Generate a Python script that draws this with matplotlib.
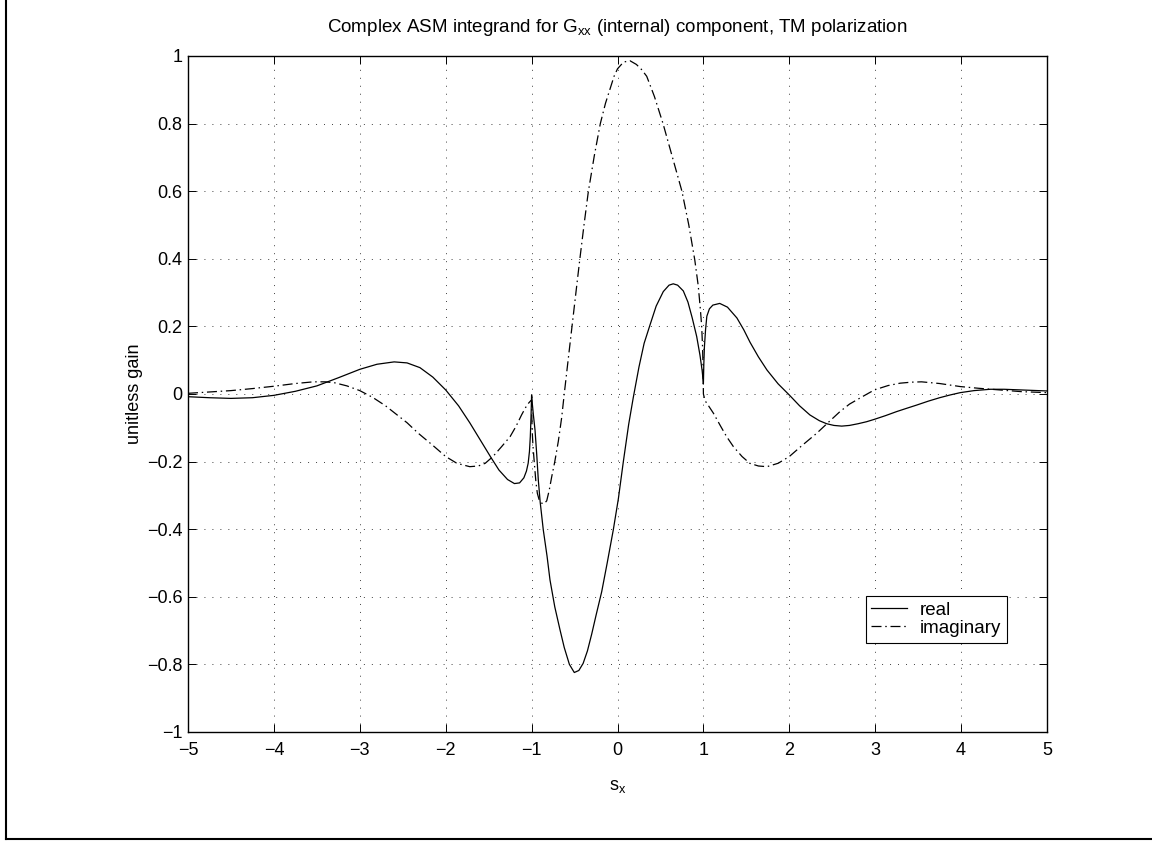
import matplotlib
matplotlib.use("Agg")
import matplotlib.pyplot as plt
from matplotlib.lines import Line2D

plt.rcParams['font.family'] = ['Liberation Sans', 'DejaVu Sans']
plt.rcParams['mathtext.fontset'] = 'custom'
plt.rcParams['mathtext.rm'] = 'Liberation Sans'
plt.rcParams['mathtext.it'] = 'Liberation Sans'

FS = 13

# real part of the integrand
s_real = [-5.0, -4.75, -4.5, -4.25, -4.0, -3.75, -3.5, -3.25, -3.0, -2.8, -2.6,
          -2.45, -2.3, -2.15, -2.0, -1.85, -1.72, -1.6, -1.48, -1.38, -1.28,
          -1.2, -1.14, -1.09, -1.06, -1.04, -1.025, -1.015, -1.007, -1.0,
          -0.995, -0.98, -0.96, -0.94, -0.922, -0.9, -0.864, -0.82, -0.786,
          -0.73, -0.669, -0.62, -0.56, -0.503, -0.45, -0.40, -0.35, -0.30,
          -0.25, -0.184, -0.12, -0.049, 0.01, 0.068, 0.13, 0.184, 0.25, 0.31,
          0.378, 0.45, 0.533, 0.6, 0.649, 0.70, 0.766, 0.82, 0.87, 0.922,
          0.96, 0.985, 0.995, 1.0, 1.005, 1.012, 1.025, 1.04, 1.07, 1.11,
          1.19, 1.28, 1.39, 1.47, 1.543, 1.64, 1.74, 1.87, 2.0, 2.12, 2.24,
          2.35, 2.435, 2.52, 2.61, 2.7, 2.8, 2.9, 2.99, 3.12, 3.25, 3.37,
          3.48, 3.62, 3.75, 3.87, 3.99, 4.15, 4.34, 4.5, 4.7, 5.0]
real = [-0.008, -0.011, -0.013, -0.011, -0.004, 0.008, 0.024, 0.048, 0.073,
        0.088, 0.095, 0.092, 0.078, 0.050, 0.012, -0.035, -0.085, -0.135,
        -0.185, -0.225, -0.253, -0.265, -0.263, -0.248, -0.228, -0.205,
        -0.17, -0.126, -0.07, -0.003,
        -0.02, -0.06, -0.107, -0.18, -0.254, -0.32, -0.402, -0.48, -0.55,
        -0.63, -0.698, -0.75, -0.80, -0.824, -0.818, -0.797, -0.76, -0.71,
        -0.655, -0.585, -0.50, -0.402, -0.31, -0.2, -0.09, -0.01, 0.08, 0.15,
        0.204, 0.26, 0.303, 0.322, 0.326, 0.322, 0.305, 0.272, 0.225, 0.17,
        0.115, 0.07, 0.045, 0.03, 0.09, 0.14, 0.19, 0.23, 0.252, 0.263,
        0.268, 0.257, 0.225, 0.19, 0.153, 0.11, 0.071, 0.03, -0.003, -0.035,
        -0.062, -0.079, -0.088, -0.093, -0.095, -0.093, -0.088, -0.082,
        -0.075, -0.064, -0.052, -0.042, -0.033, -0.021, -0.011, -0.003,
        0.004, 0.01, 0.014, 0.014, 0.012, 0.009]

# imaginary part of the integrand
s_imag = [-5.0, -4.75, -4.5, -4.25, -4.0, -3.75, -3.54, -3.4, -3.29, -3.15,
          -3.0, -2.85, -2.7, -2.6, -2.45, -2.32, -2.15, -2.0, -1.87, -1.72,
          -1.62, -1.54, -1.45, -1.35, -1.25, -1.18, -1.117, -1.07, -1.035,
          -1.01, -1.0, -0.995, -0.985, -0.968, -0.95, -0.933, -0.91, -0.882,
          -0.855, -0.824, -0.795, -0.766, -0.73, -0.689, -0.65, -0.62, -0.575,
          -0.53, -0.485, -0.44, -0.39, -0.34, -0.27, -0.2, -0.14, -0.09, -0.04,
          0.0, 0.07, 0.145, 0.22, 0.28, 0.34, 0.43, 0.53, 0.64, 0.75, 0.83,
          0.9, 0.94, 0.965, 0.98, 0.99, 0.997, 1.0, 1.02, 1.06, 1.117, 1.2,
          1.27, 1.35, 1.45, 1.54, 1.64, 1.74, 1.87, 2.0, 2.15, 2.32, 2.45,
          2.59, 2.7, 2.85, 2.99, 3.15, 3.29, 3.42, 3.54, 3.75, 3.99, 4.2,
          4.45, 4.7, 5.0]
imag = [0.002, 0.006, 0.01, 0.016, 0.023, 0.031, 0.036, 0.036, 0.033, 0.024,
        0.01, -0.01, -0.035, -0.055, -0.085, -0.116, -0.152, -0.185, -0.205,
        -0.215, -0.213, -0.205, -0.185, -0.156, -0.126, -0.095, -0.062,
        -0.04, -0.027, -0.02, -0.018, -0.1, -0.15, -0.205, -0.26, -0.294,
        -0.315, -0.323, -0.325, -0.316, -0.285, -0.245, -0.2, -0.14, -0.07,
        0.0, 0.1, 0.199, 0.298, 0.396, 0.5, 0.598, 0.705, 0.80, 0.86, 0.90,
        0.94, 0.962, 0.982, 0.986, 0.975, 0.96, 0.94, 0.88, 0.80, 0.70, 0.60,
        0.50, 0.396, 0.32, 0.25, 0.2, 0.14, 0.07, 0.0, -0.02, -0.035, -0.057,
        -0.095, -0.126, -0.156, -0.185, -0.205, -0.213, -0.215, -0.205,
        -0.185, -0.152, -0.116, -0.085, -0.052, -0.03, -0.008, 0.012, 0.025,
        0.032, 0.035, 0.036, 0.031, 0.022, 0.017, 0.012, 0.007, 0.004]

x_ticks = [-5, -4, -3, -2, -1, 0, 1, 2, 3, 4, 5]
x_labels = ['\u22125', '\u22124', '\u22123', '\u22122', '\u22121', '0', '1', '2', '3', '4', '5']
y_ticks = [-1, -0.8, -0.6, -0.4, -0.2, 0, 0.2, 0.4, 0.6, 0.8, 1]
y_labels = ['\u22121', '\u22120.8', '\u22120.6', '\u22120.4', '\u22120.2', '0',
            '0.2', '0.4', '0.6', '0.8', '1']

fig = plt.figure(figsize=(11.52, 8.41), dpi=100)
ax = fig.add_axes([188 / 1152, 1 - 732 / 841, 859 / 1152, 676 / 841])

ax.plot(s_real, real, color='k', lw=0.9, label='real')
ax.plot(s_imag, imag, color='k', lw=0.9, dashes=(8, 3, 1.2, 3), label='imaginary')

ax.set_xlim(-5, 5)
ax.set_ylim(-1, 1)
ax.set_xticks(x_ticks)
ax.set_xticklabels(x_labels)
ax.set_yticks(y_ticks)
ax.set_yticklabels(y_labels)
ax.tick_params(direction='in', top=True, right=True, length=5.5, width=0.7,
               labelsize=FS, colors='k')
ax.tick_params(axis='x', pad=7)
ax.tick_params(axis='y', pad=4)
for sp in ax.spines.values():
    sp.set_linewidth(1.0)

ax.grid(True, color='0.25', lw=0.7, linestyle=(0, (1, 7.2)))

ax.set_title('Complex ASM integrand for G$_{\\mathrm{xx}}$ (internal) component, TM polarization',
             fontsize=13.5, pad=17)
ax.set_xlabel('s$_{\\mathrm{x}}$', fontsize=FS, labelpad=14)
ax.set_ylabel('unitless gain', fontsize=FS, labelpad=3)

leg = ax.legend(loc='upper left', bbox_to_anchor=(0.789, 0.201), borderaxespad=0,
                fontsize=13.5, fancybox=False, framealpha=1, edgecolor='k',
                handlelength=1.9, handletextpad=0.7, labelspacing=0.05,
                borderpad=0.3)
leg.get_frame().set_linewidth(0.8)

# figure border on the left and bottom
fig.add_artist(Line2D([6 / 1152, 6 / 1152], [1, 2 / 841], transform=fig.transFigure,
                      color='k', lw=1.5))
fig.add_artist(Line2D([6 / 1152, 1], [2 / 841, 2 / 841], transform=fig.transFigure,
                      color='k', lw=1.5))

fig.savefig('out.png', dpi=100)
